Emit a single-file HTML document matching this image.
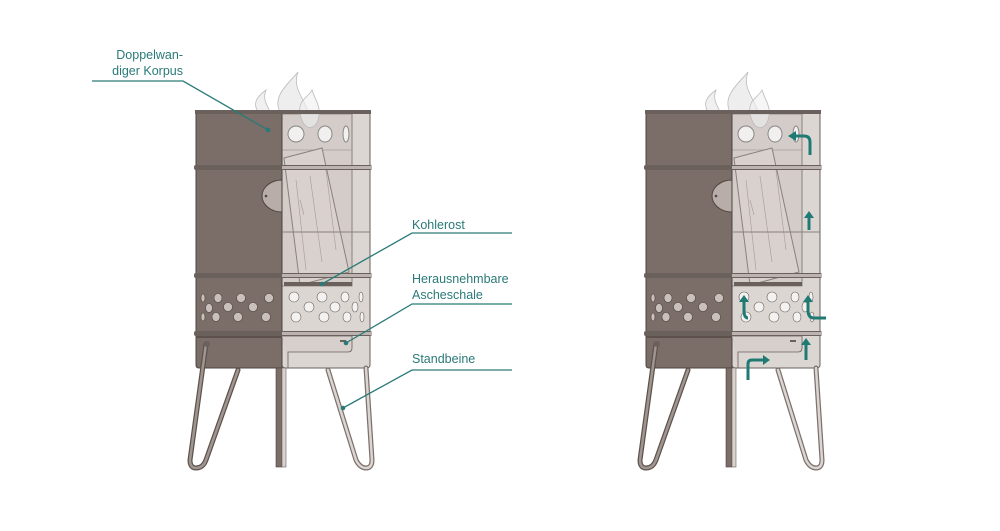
<!DOCTYPE html>
<html><head><style>body{margin:0;background:#fff}svg{display:block}text{font-family:"Liberation Sans",sans-serif;font-size:12.5px;fill:#2a7a78}</style></head><body>
<svg width="1000" height="531" viewBox="0 0 1000 531" xmlns="http://www.w3.org/2000/svg">
<defs>
<g id="stove">
  <!-- flames behind -->
  <path d="M258 112 C252 102 258 96 266 90 C262 100 268 106 270 112Z" fill="#f0f0f0" stroke="#bbb" stroke-width="0.8"/>
  <path d="M280 112 C272 96 288 84 298 72 C292 88 304 98 308 112Z" fill="#eeeeee" stroke="#bbb" stroke-width="0.8"/>
  <!-- light half -->
  <rect x="282" y="112" width="88" height="256" rx="3" fill="#dcd6d3" stroke="#6a605c" stroke-width="1"/>
  <rect x="282" y="114" width="70" height="172" fill="#d3ccc9" stroke="#8a807c" stroke-width="0.8"/>
  <line x1="352" y1="114" x2="352" y2="286" stroke="#8a807c"/>
  <line x1="282" y1="150" x2="352" y2="150" stroke="#a59b97" stroke-width="0.7"/>
  <!-- top holes -->
  <ellipse cx="296" cy="134" rx="8" ry="8" fill="#f2f0ef" stroke="#888"/>
  <ellipse cx="325" cy="134" rx="7" ry="8" fill="#f2f0ef" stroke="#888"/>
  <ellipse cx="346" cy="134" rx="3" ry="8" fill="#f2f0ef" stroke="#888"/>
  <!-- wood -->
  <path d="M284 158 L322 148 L349 272 L300 285 Z" fill="#d8d1ce" stroke="#8a807c" stroke-width="1"/>
  <path d="M296 180 L306 270 M310 176 L322 262 M326 170 L336 250 M300 200 L304 215" stroke="#a59b97" stroke-width="0.6" fill="none"/>
  <!-- flame overlay -->
  <path d="M300 112 C298 100 308 98 312 90 C316 102 322 108 318 120 C314 132 302 130 300 112Z" fill="rgba(240,240,240,0.6)" stroke="#bbb" stroke-width="0.8"/>
  <!-- dark half -->
  <path d="M196 112 H282 V368 H199 Q196 368 196 365 Z" fill="#7b6d67" stroke="#4e4440" stroke-width="1"/>
  <path d="M282 180 C270 180 262 188 262 196 C262 204 270 212 282 212 Z" fill="#b8ada8" stroke="#4e4440"/>
  <circle cx="266" cy="196" r="1.3" fill="#4e4440"/>
  <!-- top rim -->
  <rect x="195" y="110" width="176" height="4" fill="#6a605c"/>
  <!-- bands -->
  <g fill="#6a605c">
   <rect x="194" y="165" width="178" height="5" rx="2"/>
   <rect x="194" y="273" width="178" height="5" rx="2"/>
   <rect x="194" y="331" width="178" height="5" rx="2"/>
  </g>
  <rect x="282" y="166" width="90" height="3" fill="#bdb4b1"/>
  <rect x="282" y="274" width="90" height="3" fill="#bdb4b1"/>
  <rect x="282" y="332" width="90" height="3" fill="#bdb4b1"/>
  <line x1="282" y1="232" x2="370" y2="232" stroke="#8a807c"/>
  <!-- grate -->
  <rect x="284" y="282" width="68" height="4" fill="#6a605c"/>
  <!-- holes -->
  <g fill="#c9bfbb" stroke="#4e4440" stroke-width="0.6">
   <ellipse cx="203" cy="298" rx="2" ry="4"/><ellipse cx="218" cy="298" rx="4" ry="4.5"/><ellipse cx="241" cy="298" rx="4.5" ry="4.5"/><ellipse cx="269" cy="298" rx="4.5" ry="4.5"/>
   <ellipse cx="209" cy="308" rx="3.5" ry="4.5"/><ellipse cx="228" cy="307" rx="4.5" ry="4.5"/><ellipse cx="253" cy="307" rx="4.5" ry="4.5"/>
   <ellipse cx="203" cy="317" rx="2" ry="4"/><ellipse cx="216" cy="317" rx="4" ry="4.5"/><ellipse cx="238" cy="317" rx="4.5" ry="4.5"/><ellipse cx="266" cy="317" rx="4.5" ry="4.5"/>
  </g>
  <g fill="#f4f2f1" stroke="#6a605c" stroke-width="0.6">
   <ellipse cx="294" cy="297" rx="5" ry="5"/><ellipse cx="322" cy="297" rx="5" ry="5"/><ellipse cx="345" cy="297" rx="4" ry="5"/><ellipse cx="361" cy="297" rx="2" ry="5"/>
   <ellipse cx="309" cy="307" rx="5" ry="5"/><ellipse cx="335" cy="307" rx="5" ry="5"/><ellipse cx="355" cy="307" rx="3" ry="5"/>
   <ellipse cx="296" cy="317" rx="5" ry="5"/><ellipse cx="324" cy="317" rx="5" ry="5"/><ellipse cx="347" cy="317" rx="4" ry="5"/><ellipse cx="362" cy="317" rx="2" ry="5"/>
  </g>
  <!-- ash drawer -->
  <path d="M282 336 H352 V348 Q352 352 348 352 H288 V368" fill="#d6cfcc" stroke="#6a605c" stroke-width="0.8"/>
  <rect x="340" y="340" width="6" height="2" fill="#6a605c"/>
  <rect x="196" y="336" width="86" height="2" fill="#5c514d"/>
  <!-- legs -->
  <g fill="none" stroke-linecap="round">
   <path d="M206 344 L190 460 Q190 468 196 468 Q203 468 206 460 L238 370" stroke="#5e524e" stroke-width="5"/>
   <path d="M206 344 L190 460 Q190 468 196 468 Q203 468 206 460 L238 370" stroke="#a09690" stroke-width="2.5"/>
   <path d="M328 370 L356 460 Q360 468 366 468 Q372 468 372 460 L366 368" stroke="#7c716d" stroke-width="5"/>
   <path d="M328 370 L356 460 Q360 468 366 468 Q372 468 372 460 L366 368" stroke="#dcd6d3" stroke-width="2.5"/>
  </g>
  <rect x="276" y="368" width="6" height="99" fill="#7b6d67" stroke="#4e4440" stroke-width="0.6"/>
  <rect x="282" y="368" width="4" height="99" fill="#d9d3d0" stroke="#6a605c" stroke-width="0.6"/>
  <circle cx="207" cy="344" r="3" fill="#6a605c"/>
</g>
</defs>
<use href="#stove"/>
<use href="#stove" transform="translate(450,0)"/>
<!-- labels -->
<g stroke="#2a7a78" stroke-width="1.3" fill="none">
 <path d="M92 81 H183 L268 130"/>
 <path d="M512 233 H412 L322 284"/>
 <path d="M512 304 H412 L346 343"/>
 <path d="M512 370 H412 L343 408"/>
</g>
<g fill="#2a7a78"><circle cx="268" cy="130" r="2.3"/><circle cx="322" cy="284" r="2.3"/><circle cx="346" cy="343" r="2.3"/><circle cx="343" cy="408" r="2.3"/></g>
<text x="183" y="59" text-anchor="end">Doppelwan-</text>
<text x="183" y="75" text-anchor="end">diger Korpus</text>
<text x="412" y="229">Kohlerost</text>
<text x="412" y="283">Herausnehmbare</text>
<text x="412" y="299">Ascheschale</text>
<text x="412" y="363">Standbeine</text>
<!-- airflow arrows -->
<g stroke="#1f7a74" stroke-width="3" fill="none">
 <path d="M810 155 V142 Q810 136 804 136 H794"/>
 <path d="M809 230 V216"/>
 <path d="M748 318 Q744 318 744 310 V300"/>
 <path d="M826 318 H814 Q808 318 808 310 V300"/>
 <path d="M806 360 V344"/>
 <path d="M748 380 V364 Q748 360 752 360 H764"/>
</g>
<g fill="#1f7a74">
 <path d="M788 136 L796 131 V141Z"/>
 <path d="M809 211 L804 218 H814Z"/>
 <path d="M744 295 L739 302 H749Z"/>
 <path d="M808 295 L803 302 H813Z"/>
 <path d="M806 338 L801 345 H811Z"/>
 <path d="M770 360 L763 355 V365Z"/>
</g>
</svg>
</body></html>
